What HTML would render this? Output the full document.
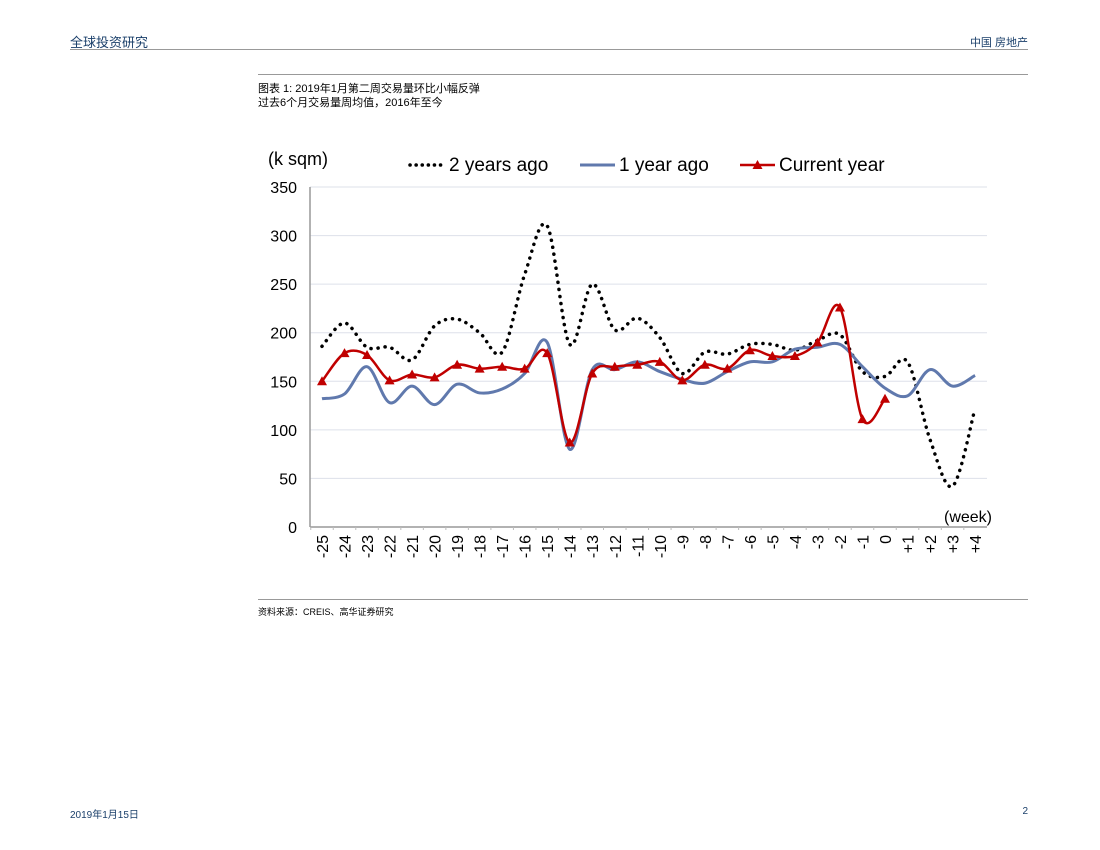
<!DOCTYPE html>
<html><head><meta charset="utf-8"><style>
body{margin:0;width:1100px;height:850px;background:#fff;font-family:"Liberation Sans","Noto Sans CJK SC",sans-serif;position:relative;overflow:hidden}
.t{position:absolute;white-space:nowrap}
</style></head><body>
<div class="t" style="left:70px;top:32px;font-size:13px;color:#1a3f6a">全球投资研究</div>
<div class="t" style="right:72px;top:34px;font-size:11px;color:#1a3f6a">中国 房地产</div>
<div style="position:absolute;left:70px;top:49px;width:958px;height:1px;background:#999"></div>
<div style="position:absolute;left:258px;top:74px;width:770px;height:1px;background:#999"></div>
<div class="t" style="left:258px;top:80px;font-size:11px;color:#000">图表 1: 2019年1月第二周交易量环比小幅反弹</div>
<div class="t" style="left:258px;top:94px;font-size:11px;color:#000">过去6个月交易量周均值，2016年至今</div>
<div style="position:absolute;left:258px;top:599px;width:770px;height:1px;background:#999"></div>
<div class="t" style="left:258px;top:605px;font-size:9px;color:#000">资料来源：CREIS、高华证券研究</div>
<div class="t" style="left:70px;top:806px;font-size:10px;color:#1a3f6a">2019年1月15日</div>
<div class="t" style="right:72px;top:806px;font-size:10px;color:#1a3f6a">2</div>
<svg id="chart" width="1100" height="850" style="position:absolute;left:0;top:0" font-family="Liberation Sans, sans-serif"></svg>
<script>
const categories=["-25","-24","-23","-22","-21","-20","-19","-18","-17","-16","-15","-14","-13","-12","-11","-10","-9","-8","-7","-6","-5","-4","-3","-2","-1","0","+1","+2","+3","+4"];
const twoYearsAgo=[186,210,185,185,172,207,214,200,180,260,310,188,250,203,215,195,158,180,178,188,188,182,192,198,160,155,170,90,42,122];
const oneYearAgo=[132,137,165,128,145,126,147,138,142,158,190,80,162,162,170,160,152,148,160,170,170,183,185,188,165,143,135,162,145,156];
const currentYear=[150,179,177,151,157,154,167,163,165,163,179,87,158,165,167,170,151,167,163,182,176,176,190,226,111,132];
const yTicks=[0,50,100,150,200,250,300,350];
const NS="http://www.w3.org/2000/svg";
const svg=document.getElementById('chart');
const x0=322,dx=22.52,yBase=527,yScale=340/350;
const X=i=>x0+i*dx;
const Y=v=>yBase-v*yScale;
function el(t,a){const e=document.createElementNS(NS,t);for(const k in a)e.setAttribute(k,a[k]);svg.appendChild(e);return e;}
yTicks.forEach(v=>{
  if(v>0){const g=el('line',{x1:310,x2:987,y1:Y(v),y2:Y(v),stroke:'#dde0ea','stroke-width':1});
  
  }
  const t=el('text',{x:297,y:Y(v)+6,'text-anchor':'end','font-size':16,fill:'#000'});t.textContent=v;
  
  
});
const ax=el('line',{x1:310,x2:310,y1:187,y2:527,stroke:'#999','stroke-width':1.5});


const xa=el('line',{x1:310,x2:987,y1:527,y2:527,stroke:'#999','stroke-width':1.5});


categories.forEach((c,i)=>{
  const tk=el('line',{x1:X(i)-dx/2,x2:X(i)-dx/2,y1:527,y2:530,stroke:'#bbb'});
  
  
  const t=el('text',{x:0,y:0,'text-anchor':'end','font-size':16,fill:'#000',transform:`translate(${X(i)+6},535) rotate(-90)`});t.textContent=c;
  
  
});
const wk=el('text',{x:944,y:522,'font-size':16,fill:'#000'});wk.textContent='(week)';


const yt=el('text',{x:268,y:165,'font-size':18,fill:'#000'});yt.textContent='(k sqm)';


function smooth(vals){
  const p=vals.map((v,i)=>[X(i),Y(v)]);let d=`M${p[0][0]},${p[0][1]}`;
  for(let i=0;i<p.length-1;i++){const a=p[i-1]||p[i],b=p[i],c=p[i+1],e=p[i+2]||c;
    d+=` C${b[0]+(c[0]-a[0])/6},${b[1]+(c[1]-a[1])/6} ${c[0]-(e[0]-b[0])/6},${c[1]-(e[1]-b[1])/6} ${c[0]},${c[1]}`;}
  return d;}
const s1=el('path',{d:smooth(twoYearsAgo),fill:'none',stroke:'#000','stroke-width':3.5,'stroke-dasharray':'0.1 7','stroke-linecap':'round'});


const s2=el('path',{d:smooth(oneYearAgo),fill:'none',stroke:'#6079ad','stroke-width':3});


const s3=el('path',{d:smooth(currentYear),fill:'none',stroke:'#c00000','stroke-width':2.5});


function tri(cx,cy){return `${cx},${cy-5} ${cx-5},${cy+4} ${cx+5},${cy+4}`;}
currentYear.forEach((v,i)=>{const m=el('polygon',{points:tri(X(i),Y(v)),fill:'#c00000'});
  
  });
const l1=el('line',{x1:410,x2:444,y1:165,y2:165,stroke:'#000','stroke-width':3.5,'stroke-dasharray':'0.1 6','stroke-linecap':'round'});


const t1=el('text',{x:449,y:171,'font-size':19});t1.textContent='2 years ago';


const l2=el('line',{x1:580,x2:615,y1:165,y2:165,stroke:'#6079ad','stroke-width':3});


const t2=el('text',{x:619,y:171,'font-size':19});t2.textContent='1 year ago';


const l3=el('line',{x1:740,x2:775,y1:165,y2:165,stroke:'#c00000','stroke-width':2.5});


const lm=el('polygon',{points:tri(757.5,165),fill:'#c00000'});


const t3=el('text',{x:779,y:171,'font-size':19});t3.textContent='Current year';


</script>
</body></html>
